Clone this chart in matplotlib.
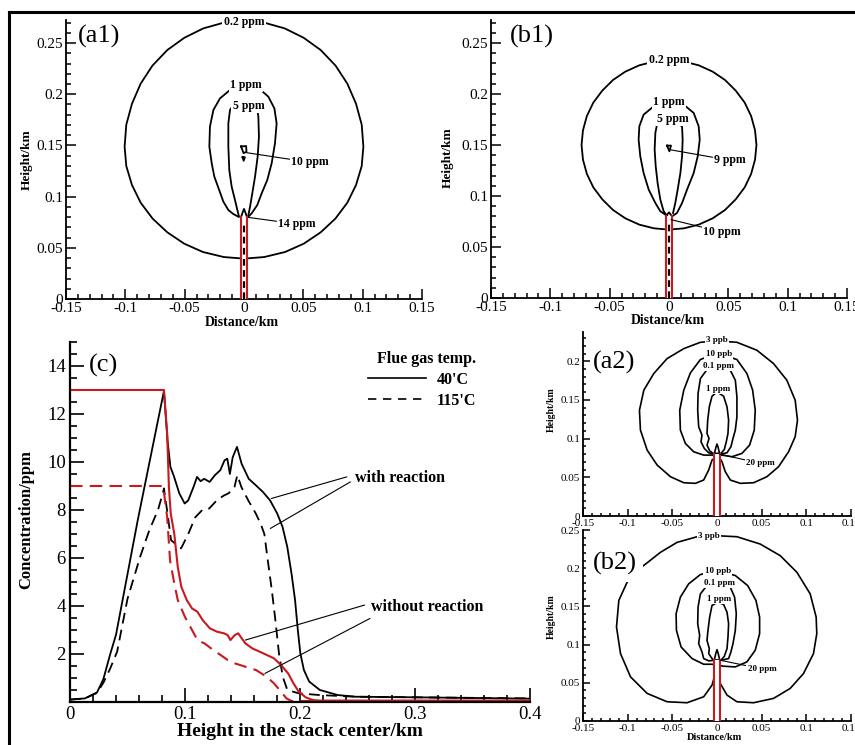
"""
Plume contours (a1, b1, a2, b2) and centre-line concentration (c)
"""
import numpy as np
import matplotlib
matplotlib.use("Agg")
import matplotlib.pyplot as plt
from matplotlib.lines import Line2D
from matplotlib.patches import Rectangle
from matplotlib.ticker import FuncFormatter

plt.rcParams["font.family"] = ["Liberation Serif", "DejaVu Serif"]

W, H = 855, 745
RED = "#c8191e"

# ---------------- panel (c): concentration along the stack centre line ----------------
h_rx40 = [0, 0.013, 0.0235, 0.029, 0.035, 0.04, 0.059, 0.0817, 0.0848, 0.0873, 0.0904, 0.095,
          0.0997, 0.1028, 0.1074, 0.1105, 0.1136, 0.1167, 0.1214, 0.126, 0.1307, 0.1344, 0.1368,
          0.139, 0.1415, 0.1452, 0.1492, 0.1554, 0.1616, 0.1678, 0.174, 0.1802, 0.1848, 0.1889,
          0.1926, 0.1957, 0.1981, 0.2003, 0.2034, 0.208, 0.2173, 0.2328, 0.2483, 0.31, 0.4]
c_rx40 = [0.1, 0.15, 0.4, 0.95, 2.0, 2.8, 7.6, 12.96, 10.9, 9.8, 9.4, 8.7,
          8.27, 8.4, 8.96, 9.38, 9.2, 9.3, 9.17, 9.45, 9.66, 10.07, 10.14,
          9.5, 10.2, 10.63, 9.93, 9.3, 9.03, 8.75, 8.4, 7.85, 7.3, 6.47,
          5.36, 4.25, 3.0, 2.03, 1.33, 0.85, 0.5, 0.29, 0.22, 0.19, 0.14]

h_rx115 = [0, 0.013, 0.0235, 0.029, 0.035, 0.041, 0.05, 0.061, 0.069, 0.0765, 0.081, 0.0817,
           0.0848, 0.0879, 0.0966, 0.1028, 0.109, 0.115, 0.121, 0.1276, 0.1337, 0.138, 0.143,
           0.1455, 0.149, 0.155, 0.1616, 0.166, 0.169, 0.172, 0.1755, 0.1786, 0.1817, 0.185,
           0.189, 0.199, 0.217, 0.248, 0.4]
c_rx115 = [0.1, 0.15, 0.38, 0.8, 1.4, 2.1, 4.3, 6.05, 7.16, 8.0, 8.75, 8.9,
           7.85, 6.74, 6.4, 7.0, 7.7, 8.0, 8.06, 8.4, 8.6, 8.7, 8.96,
           9.45, 8.96, 8.4, 7.85, 7.4, 7.0, 5.9, 4.66, 3.4, 2.03, 1.05,
           0.5, 0.36, 0.29, 0.22, 0.15]

h_nr40 = [0, 0.0817, 0.0845, 0.086, 0.0876, 0.0907, 0.0937, 0.0968, 0.1015, 0.1061, 0.1108,
          0.1154, 0.1216, 0.1278, 0.134, 0.1371, 0.1395, 0.1433, 0.1463, 0.1525, 0.1587, 0.168,
          0.1773, 0.1835, 0.1897, 0.1943, 0.1989, 0.2051, 0.2113, 0.2175, 0.4]
c_nr40 = [13.0, 13.0, 11.18, 8.96, 7.85, 7.0, 5.63, 4.8, 4.25, 3.9, 3.76,
          3.41, 3.07, 2.93, 2.86, 2.79, 2.58, 2.79, 2.86, 2.44, 2.23, 2.03,
          1.82, 1.54, 1.19, 0.78, 0.43, 0.19, 0.08, 0.06, 0.06]

h_nr115 = [0, 0.081, 0.0845, 0.087, 0.0907, 0.0937, 0.0999, 0.1061, 0.1108, 0.117, 0.1247,
           0.1309, 0.1371, 0.1433, 0.1525, 0.1618, 0.1711, 0.1773, 0.1835, 0.1882, 0.1928, 0.4]
c_nr115 = [9.0, 9.0, 7.7, 5.9, 4.94, 4.25, 3.55, 3.0, 2.58, 2.44, 2.16,
           1.96, 1.75, 1.61, 1.47, 1.33, 1.05, 0.78, 0.43, 0.15, 0.04, 0.04]

# ---------------- (a1) 40'C, with reaction ----------------
a1_02_x = [0, -0.0171, -0.0343, -0.0502, -0.0646, -0.0772, -0.0871, -0.0944, -0.0992, -0.1006,
           -0.0992, -0.0944, -0.0871, -0.077, -0.0646, -0.0503, -0.0346, -0.0171, 0,
           0.0171, 0.0346, 0.0503, 0.0646, 0.077, 0.0871, 0.0944, 0.0992, 0.1006,
           0.0992, 0.0944, 0.0871, 0.0772, 0.0646, 0.0502, 0.0343, 0.0171, 0]
a1_02_y = [0.2718, 0.2699, 0.2643, 0.2552, 0.2432, 0.2279, 0.2103, 0.1907, 0.1702, 0.1488,
           0.1299, 0.1113, 0.0941, 0.0785, 0.0651, 0.054, 0.0459, 0.041, 0.0394,
           0.041, 0.0459, 0.054, 0.0651, 0.0785, 0.0941, 0.1113, 0.1299, 0.1488,
           0.1702, 0.1907, 0.2103, 0.2279, 0.2432, 0.2552, 0.2643, 0.2699, 0.2718]
a1_1_x = [-0.0048, -0.009, -0.0132, -0.0174, -0.0209, -0.025, -0.0272, -0.0292, -0.0287, -0.0258,
          -0.0202, -0.0118, 0.0008, 0.0135, 0.0205, 0.0256, 0.0275, 0.0261, 0.0233, 0.0196,
          0.0149, 0.0112, 0.0065, 0.0037]
a1_1_y = [0.0804, 0.083, 0.0869, 0.0951, 0.1064, 0.1195, 0.1325, 0.1488, 0.1683, 0.1846,
          0.196, 0.2041, 0.208, 0.2048, 0.1976, 0.1862, 0.1715, 0.152, 0.1325, 0.1162,
          0.1032, 0.0918, 0.0837, 0.0804]
a1_5_x = [-0.0042, -0.0056, -0.0076, -0.0104, -0.0124, -0.0132, -0.0132, -0.0118, -0.009,
          0.0008, 0.0107, 0.0121, 0.0126, 0.0115, 0.0093, 0.007, 0.0051, 0.0037]
a1_5_y = [0.0804, 0.0869, 0.0967, 0.1097, 0.126, 0.1488, 0.1715, 0.1846, 0.1895,
          0.1917, 0.1895, 0.1781, 0.1585, 0.139, 0.1195, 0.1032, 0.0902, 0.082]
a1_10_x = [-0.0025, 0.0018, 0.0021, -0.0004, -0.0025]
a1_10_y = [0.149, 0.1494, 0.1437, 0.1425, 0.149]
a1_10b_x = [-0.0012, 0.0008, -0.0003, -0.0012]
a1_10b_y = [0.1385, 0.1385, 0.135, 0.1385]
a1_tip_x = [-0.0025, -0.001, 0, 0.001, 0.0025]
a1_tip_y = [0.08, 0.085, 0.088, 0.085, 0.08]

# ---------------- (b1) 115'C, with reaction ----------------
b1_02_x = [0, -0.0127, -0.025, -0.0368, -0.0472, -0.0562, -0.0638, -0.0692, -0.0725, -0.0737,
           -0.0725, -0.0692, -0.0638, -0.0562, -0.0472, -0.0368, -0.025, -0.0127, 0,
           0.0127, 0.025, 0.0368, 0.0472, 0.0562, 0.0638, 0.0692, 0.0725, 0.0737,
           0.0725, 0.0692, 0.0638, 0.0562, 0.0472, 0.0368, 0.025, 0.0127, 0]
b1_02_y = [0.233, 0.2317, 0.2281, 0.2219, 0.2137, 0.2033, 0.1915, 0.1784, 0.1644, 0.15,
           0.1356, 0.1216, 0.1085, 0.0967, 0.0863, 0.0781, 0.0719, 0.0683, 0.067,
           0.0683, 0.0719, 0.0781, 0.0863, 0.0967, 0.1085, 0.1216, 0.1356, 0.15,
           0.1644, 0.1784, 0.1915, 0.2033, 0.2137, 0.2219, 0.2281, 0.2317, 0.233]
b1_1_x = [-0.0031, -0.0073, -0.0115, -0.0171, -0.0214, -0.0242, -0.0256, -0.025, -0.0214,
          -0.0129, -0.0003, 0.0124, 0.0208, 0.025, 0.0259, 0.0242, 0.0208, 0.0152, 0.011,
          0.0067, 0.0034]
b1_1_y = [0.0817, 0.085, 0.0931, 0.1062, 0.1225, 0.1389, 0.1552, 0.1683, 0.1797,
          0.1879, 0.1918, 0.1895, 0.1814, 0.1683, 0.1552, 0.1389, 0.1225, 0.1062, 0.0931,
          0.0833, 0.0807]
b1_5_x = [-0.0017, -0.0045, -0.0073, -0.0096, -0.0112, -0.0121, -0.0115, -0.0101, -0.0003,
          0.011, 0.0115, 0.011, 0.0096, 0.0073, 0.0053, 0.0034]
b1_5_y = [0.0807, 0.085, 0.0964, 0.1127, 0.1291, 0.1454, 0.1618, 0.1699, 0.1765,
          0.1683, 0.1552, 0.1389, 0.1225, 0.1062, 0.0931, 0.0833]
b1_9_x = [-0.0017, 0.0017, 0.0003, -0.0017]
b1_9_y = [0.1494, 0.1494, 0.1438, 0.1494]
b1_tip_x = [-0.0025, -0.001, 0, 0.001, 0.0025]
b1_tip_y = [0.08, 0.0825, 0.084, 0.0825, 0.08]

# ---------------- (a2) 40'C, without reaction ----------------
a2_3ppb_x = [0, -0.0056, -0.0093, -0.0149, -0.0242, -0.0372, -0.0521, -0.067, -0.0782, -0.0857,
             -0.0868, -0.0819, -0.0708, -0.0559, -0.0372, -0.0186, 0, 0.0223, 0.0447, 0.0633,
             0.0782, 0.0875, 0.0901, 0.0875, 0.0801, 0.0689, 0.0559, 0.041, 0.0261, 0.0149,
             0.0093, 0.0056, 0.0019]
a2_3ppb_y = [0.0766, 0.0723, 0.0594, 0.0465, 0.0422, 0.043, 0.0508, 0.0658, 0.0852, 0.111,
             0.1368, 0.1626, 0.1841, 0.2034, 0.2163, 0.2245, 0.2262, 0.2245, 0.2142, 0.197,
             0.1755, 0.1497, 0.1239, 0.1024, 0.083, 0.0637, 0.0508, 0.043, 0.0422, 0.0465,
             0.0572, 0.0701, 0.0766]
a2_10ppb_x = [0, -0.0186, -0.0298, -0.0372, -0.0417, -0.041, -0.0354, -0.0261, -0.0149, -0.0056,
              0.0056, 0.0168, 0.0279, 0.0365, 0.0417, 0.0428, 0.0399, 0.0335, 0.0223, 0]
a2_10ppb_y = [0.2108, 0.2022, 0.1849, 0.1626, 0.1368, 0.111, 0.0938, 0.083, 0.0787, 0.0787,
              0.0787, 0.0766, 0.0809, 0.0916, 0.111, 0.1368, 0.1626, 0.1841, 0.2022, 0.2108]
a2_01_x = [0, -0.0112, -0.0186, -0.0212, -0.0216, -0.0205, -0.0168, -0.0179, -0.0142, -0.0093,
           -0.0037, 0.0045, 0.0112, 0.0156, 0.0179, 0.0205, 0.0223, 0.0223, 0.0205, 0.0149,
           0.0074, 0]
a2_01_y = [0.1935, 0.1892, 0.1776, 0.1583, 0.1368, 0.1153, 0.1045, 0.0959, 0.0873, 0.0817,
           0.08, 0.08, 0.0817, 0.0895, 0.1002, 0.111, 0.1282, 0.154, 0.1755, 0.1884,
           0.1927, 0.1935]
a2_1_x = [0, -0.0056, -0.0086, -0.0104, -0.0112, -0.0089, -0.0112, -0.0082, -0.0045, 0.0045,
          0.0082, 0.0104, 0.0123, 0.013, 0.0112, 0.0074, 0]
a2_1_y = [0.1604, 0.1548, 0.1411, 0.1239, 0.1067, 0.1002, 0.0916, 0.0843, 0.0809, 0.0809,
          0.086, 0.0959, 0.1067, 0.1239, 0.1411, 0.1548, 0.1604]
a2_tip_x = [-0.003, -0.0012, 0, 0.0012, 0.003]
a2_tip_y = [0.08, 0.089, 0.093, 0.089, 0.08]

# ---------------- (b2) 115'C, without reaction ----------------
b2_3ppb_x = [0, -0.0019, -0.0056, -0.0149, -0.0335, -0.0559, -0.0782, -0.0968, -0.108, -0.1125,
             -0.1099, -0.1006, -0.0894, -0.0775, -0.0633, -0.0447, -0.0223, 0, 0.0223, 0.0484,
             0.0708, 0.0894, 0.1043, 0.111, 0.1117, 0.108, 0.0968, 0.0819, 0.0633, 0.041,
             0.0223, 0.0112, 0.0037, 0.0007]
b2_3ppb_y = [0.0708, 0.0621, 0.0469, 0.0317, 0.0239, 0.0252, 0.0361, 0.0578, 0.0882, 0.123,
             0.1578, 0.1817, 0.1969, 0.2077, 0.2208, 0.2338, 0.2412, 0.2425, 0.2412, 0.2316,
             0.2164, 0.1947, 0.1664, 0.136, 0.1143, 0.0882, 0.0621, 0.0426, 0.0296, 0.0239,
             0.0252, 0.0339, 0.0491, 0.0665]
b2_10ppb_x = [0, -0.0186, -0.0317, -0.041, -0.0458, -0.0454, -0.0402, -0.0279, -0.0149, -0.0056,
              0.0074, 0.0205, 0.0335, 0.0428, 0.0477, 0.0477, 0.0436, 0.0343, 0.0205, 0]
b2_10ppb_y = [0.1969, 0.1917, 0.1795, 0.1621, 0.1404, 0.1186, 0.0969, 0.0817, 0.0743, 0.0743,
              0.0717, 0.0708, 0.0774, 0.0926, 0.1143, 0.136, 0.1578, 0.1773, 0.1904, 0.1969]
b2_01_x = [0, -0.0112, -0.0186, -0.0212, -0.0216, -0.0194, -0.0205, -0.0168, -0.0149, -0.0093,
           -0.003, 0.0045, 0.013, 0.0156, 0.0179, 0.0205, 0.0216, 0.0197, 0.0149, 0.0074, 0]
b2_01_y = [0.1817, 0.1773, 0.1664, 0.1491, 0.1273, 0.1121, 0.1013, 0.0904, 0.0817, 0.0787,
           0.0795, 0.0795, 0.0817, 0.0904, 0.1013, 0.1186, 0.1404, 0.1621, 0.1751, 0.1804,
           0.1817]
b2_1_x = [0.0007, -0.0056, -0.0082, -0.0101, -0.0112, -0.0086, -0.0093, -0.0056, -0.0037,
          0.0045, 0.0082, 0.0112, 0.0123, 0.013, 0.0112, 0.0074, 0.0007]
b2_1_y = [0.1556, 0.1512, 0.136, 0.1186, 0.1056, 0.0947, 0.0882, 0.0817, 0.0795,
          0.0795, 0.0847, 0.0947, 0.11, 0.1273, 0.1425, 0.1525, 0.1556]
b2_tip_x = [-0.003, -0.0012, 0, 0.0012, 0.003]
b2_tip_y = [0.08, 0.089, 0.0934, 0.089, 0.08]

stack_half = 0.0025
stack_top = 0.08

map_xticks = [-0.15, -0.1, -0.05, 0, 0.05, 0.1, 0.15]
map_yticks = [0, 0.05, 0.1, 0.15, 0.2, 0.25]
c_xticks = [0, 0.1, 0.2, 0.3, 0.4]
c_yticks = [2, 4, 6, 8, 10, 12, 14]


def tick_fmt(v, pos):
    s = "%g" % round(v, 4)
    return "0" if s in ("0", "-0") else s


fig = plt.figure(figsize=(W / 100, H / 100), dpi=100)


def place(left, top, right, bottom):
    return fig.add_axes([left / W, 1 - bottom / H, (right - left) / W, (bottom - top) / H])


def fig_pt(px, py):
    return px / W, 1 - py / H


def map_panel(box, ytop, tsize, major, minor, lab_size, ylab_px, xlab_px):
    ax = place(*box)
    ax.patch.set_alpha(0)
    ax.set_xlim(-0.15, 0.15)
    ax.set_ylim(0, ytop)
    ax.set_xticks(map_xticks)
    ax.set_xticks(np.arange(-15, 16) / 100, minor=True)
    ax.set_yticks([t for t in map_yticks if t <= ytop + 1e-6])
    ax.set_yticks(np.arange(0, int(ytop * 100) + 1) / 100, minor=True)
    ax.xaxis.set_major_formatter(FuncFormatter(tick_fmt))
    ax.yaxis.set_major_formatter(FuncFormatter(tick_fmt))
    for s in ("top", "right"):
        ax.spines[s].set_visible(False)
    for s in ("left", "bottom"):
        ax.spines[s].set_linewidth(1.3)
    ax.tick_params(which="both", direction="in", labelsize=tsize, width=1.1, pad=2)
    ax.tick_params(which="major", length=major)
    ax.tick_params(which="minor", length=minor)
    ax.set_ylabel("Height/km", fontsize=lab_size, fontweight="bold", va="center")
    ax.yaxis.set_label_coords(*fig_pt(*ylab_px), transform=fig.transFigure)
    if xlab_px is not None:
        ax.set_xlabel("Distance/km", fontsize=lab_size + 0.5, fontweight="bold", va="center")
        ax.xaxis.set_label_coords(*fig_pt(*xlab_px), transform=fig.transFigure)
    return ax


def lines(ax, curves, lw=1.3):
    for xs, ys in curves:
        ax.plot(xs, ys, color="black", lw=lw, zorder=2, solid_joinstyle="round")


def stack(ax, half, dashed):
    ax.add_patch(Rectangle((-half, 0), 2 * half, stack_top, fc="white", ec="none", zorder=3))
    for xs in (-half, half):
        ax.plot([xs, xs], [0, stack_top], color=RED, lw=1.5, zorder=4)
    if dashed:
        ax.plot([0, 0], [0, stack_top * 0.93], color="black", lw=1.6, ls=(0, (3, 2)), zorder=4)


def tag(ax, x, y, s, size, ha="center"):
    ax.text(x, y, s, ha=ha, va="center", fontsize=size, fontweight="bold", zorder=6,
            bbox=dict(boxstyle="square,pad=0.12", fc="white", ec="none"))


def lead(ax, s, tip, at, size):
    ax.annotate(s, xy=tip, xytext=at, ha="center", va="center", fontsize=size,
                fontweight="bold", zorder=6,
                bbox=dict(boxstyle="square,pad=0.12", fc="white", ec="none"),
                arrowprops=dict(arrowstyle="-", lw=0.8, color="black", shrinkA=0, shrinkB=0))


# ---- (a1) ----
ax = map_panel((66, 20, 422, 299), 0.2725, 11, 7, 3.5, 9.5, (27, 160), (242, 322))
lines(ax, [(a1_02_x, a1_02_y), (a1_1_x, a1_1_y), (a1_5_x, a1_5_y),
           (a1_10_x, a1_10_y), (a1_10b_x, a1_10b_y)])
stack(ax, stack_half, True)
lines(ax, [(a1_tip_x, a1_tip_y)])
tag(ax, 0, 0.2708, "0.2 ppm", 8.5)
tag(ax, 0.0017, 0.209, "1 ppm", 8.5)
tag(ax, 0.0037, 0.1885, "5 ppm", 8.5)
lead(ax, "10 ppm", (0.0022, 0.1429), (0.0556, 0.1335), 8.5)
lead(ax, "14 ppm", (0.0037, 0.0797), (0.0444, 0.0732), 8.5)
ax.text(-0.14, 0.256, "(a1)", fontsize=19, ha="left", va="center")

# ---- (b1) ----
ax = map_panel((491, 20, 847, 298), 0.2725, 11, 7, 3.5, 9.5, (448, 158), (668, 320))
lines(ax, [(b1_02_x, b1_02_y), (b1_1_x, b1_1_y), (b1_5_x, b1_5_y), (b1_9_x, b1_9_y)])
stack(ax, stack_half, True)
lines(ax, [(b1_tip_x, b1_tip_y)])
tag(ax, 0, 0.2337, "0.2 ppm", 8.5)
tag(ax, 0, 0.1918, "1 ppm", 8.5)
tag(ax, 0.0034, 0.1755, "5 ppm", 8.5)
lead(ax, "9 ppm", (0.0006, 0.1454), (0.0512, 0.135), 8.5)
lead(ax, "10 ppm", (0.0017, 0.0768), (0.0447, 0.0647), 8.5)
ax.text(-0.134, 0.256, "(b1)", fontsize=19, ha="left", va="center")

# ---- (a2) ----
ax = map_panel((583, 332, 851, 516), 0.2378, 8, 5, 2.5, 7, (551, 410), None)
lines(ax, [(a2_3ppb_x, a2_3ppb_y), (a2_10ppb_x, a2_10ppb_y), (a2_01_x, a2_01_y),
           (a2_1_x, a2_1_y)], lw=1.2)
stack(ax, 0.003, False)
lines(ax, [(a2_tip_x, a2_tip_y)], lw=1.2)
tag(ax, 0, 0.228, "3 ppb", 6.5)
tag(ax, 0.0019, 0.2099, "10 ppb", 6.5)
tag(ax, 0.0019, 0.1935, "0.1 ppm", 6.5)
tag(ax, 0.0007, 0.1647, "1 ppm", 6.5)
lead(ax, "20 ppm", (0.003, 0.08), (0.0484, 0.068), 6.5)
ax.text(-0.139, 0.198, "(a2)", fontsize=19, ha="left", va="center")

# ---- (b2) ----
ax = map_panel((583, 530, 851, 721), 0.25, 8, 5, 2.5, 7, (551, 617), (714, 737))
lines(ax, [(b2_3ppb_x, b2_3ppb_y), (b2_10ppb_x, b2_10ppb_y), (b2_01_x, b2_01_y),
           (b2_1_x, b2_1_y)], lw=1.2)
stack(ax, 0.003, False)
lines(ax, [(b2_tip_x, b2_tip_y)], lw=1.2)
tag(ax, -0.0093, 0.2416, "3 ppb", 6.5)
tag(ax, 0.0007, 0.1969, "10 ppb", 6.5)
tag(ax, 0.003, 0.1808, "0.1 ppm", 6.5)
tag(ax, 0.0019, 0.16, "1 ppm", 6.5)
lead(ax, "20 ppm", (0.0037, 0.0795), (0.0503, 0.0682), 6.5)
ax.text(-0.139, 0.2056, "(b2)", fontsize=19, ha="left", va="center", zorder=6,
        bbox=dict(boxstyle="square,pad=0.25", fc="white", ec="none"))

# ---- (c) ----
ax_c = place(70, 342, 530, 702)
ax_c.patch.set_alpha(0)
dash = (0, (6, 3.5))
ax_c.plot(h_rx40, c_rx40, color="black", lw=1.3)
ax_c.plot(h_rx115, c_rx115, color="black", lw=1.3, ls=dash)
ax_c.plot(h_nr40, c_nr40, color=RED, lw=1.5)
ax_c.plot(h_nr115, c_nr115, color=RED, lw=1.5, ls=dash)
ax_c.set_xlim(0, 0.4)
ax_c.set_ylim(0, 15)
ax_c.set_xticks(c_xticks)
ax_c.set_xticks(np.arange(0, 21) * 0.02, minor=True)
ax_c.set_yticks(c_yticks)
ax_c.set_yticks(np.arange(0, 31) * 0.5, minor=True)
ax_c.xaxis.set_major_formatter(FuncFormatter(tick_fmt))
for s in ("top", "right"):
    ax_c.spines[s].set_visible(False)
for s in ("left", "bottom"):
    ax_c.spines[s].set_linewidth(1.6)
ax_c.tick_params(which="both", direction="in", labelsize=13.5, width=1.2, pad=3)
ax_c.tick_params(which="major", length=10)
ax_c.tick_params(which="minor", length=5)
ax_c.set_xlabel("Height in the stack center/km", fontsize=14, fontweight="bold", va="center")
ax_c.xaxis.set_label_coords(*fig_pt(300, 732), transform=fig.transFigure)
ax_c.set_ylabel("Concentration/ppm", fontsize=12, fontweight="bold", va="center")
ax_c.yaxis.set_label_coords(*fig_pt(26, 520), transform=fig.transFigure)
ax_c.text(0.0164, 14.03, "(c)", fontsize=19, ha="left", va="center")

handles = [Line2D([], [], color="black", lw=1.2),
           Line2D([], [], color="black", lw=1.2, ls=(0, (5, 4)))]
ax_c.legend(handles, ["40'C", "115'C"], title="Flue gas temp.", loc="upper right",
            bbox_to_anchor=(0.915, 1.015), frameon=False, alignment="right",
            handlelength=3.6, handletextpad=0.7, labelspacing=0.3,
            prop=dict(weight="bold", size=11.5),
            title_fontproperties=dict(weight="bold", size=11.5))

ax_c.text(0.248, 9.34, "with reaction", fontsize=11.5, fontweight="bold", ha="left", va="center")
ax_c.text(0.262, 3.97, "without reaction", fontsize=11.5, fontweight="bold", ha="left", va="center")
leaders = [((0.2407, 9.38), (0.1751, 8.48)), ((0.2438, 9.17), (0.1742, 7.23)),
           ((0.2562, 4.04), (0.1525, 2.58)), ((0.2608, 3.48), (0.1695, 1.19))]
for start, end in leaders:
    ax_c.annotate("", xy=end, xytext=start,
                  arrowprops=dict(arrowstyle="-", lw=0.8, color="black", shrinkA=0, shrinkB=0))

# outer frame lines
fig.add_artist(Line2D([9 / W, 1], [1 - 12 / H, 1 - 12 / H], color="black", lw=2.2,
                      transform=fig.transFigure))
fig.add_artist(Line2D([9 / W, 9 / W], [0, 1 - 12 / H], color="black", lw=2.2,
                      transform=fig.transFigure))

fig.savefig("out.png", dpi=100)
